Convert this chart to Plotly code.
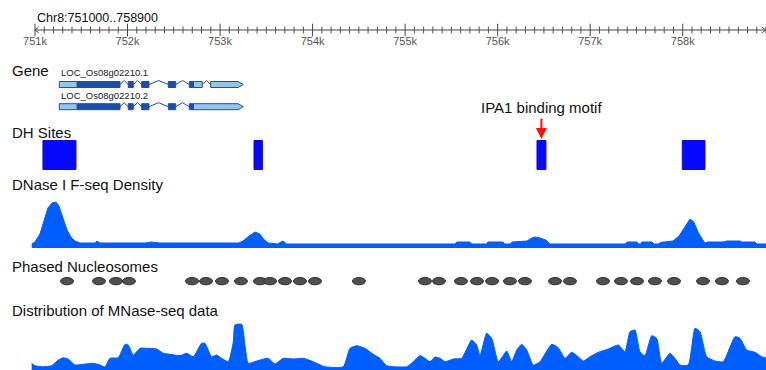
import plotly.graph_objects as go

W, H = 766, 370
X_START, X_END = 751000, 758900
VIEW_LEFT = 750622

# ---------------- data ----------------
major_ticks = list(range(751000, 759000, 1000))
major_labels = [f"{v // 1000}k" for v in major_ticks]
minor_ticks = [v for v in range(751100, 758901, 100) if v % 1000 != 0]

tx_names = ["LOC_Os08g02210.1", "LOC_Os08g02210.2"]
tx_cds = [
    [(751457, 751919), (752008, 752062), (752153, 752232), (752441, 752521), (752668, 752711)],
    [(751457, 751919), (752008, 752062), (752153, 752232), (752441, 752521), (752668, 752711)],
]
tx_utr = [
    [(751263, 751457), (752711, 752808), (752899, 753251)],
    [(751263, 751457), (752711, 753251)],
]

dh_start = [751086, 753367, 756425, 757995]
dh_end = [751443, 753458, 756522, 758241]
motif_pos = 756473
motif_label = "IPA1 binding motif"

dnase_pos = [750965, 751000, 751054, 751097, 751140, 751184, 751227, 751259, 751303, 751346,
             751389, 751432, 751486, 751650, 751670, 751700, 752200, 752250, 752350, 752700,
             753200, 753248, 753300, 753378, 753430, 753470, 753518, 753620, 753680, 753720,
             755540, 755560, 755700, 755720, 755880, 755895, 756058, 756075, 756140, 756155,
             756317, 756370, 756404, 756460, 756520, 756566, 757380, 757398, 757506, 757520,
             757545, 757560, 757668, 757690, 757740, 757755, 757841, 757895, 757960, 758030,
             758079, 758120, 758170, 758210, 758241, 758273, 758435, 758478, 758619, 758640,
             758781, 758800, 758900]
dnase_val = [4, 6, 14, 28, 40, 45, 46, 42, 30, 18,
             11, 7, 5, 5, 7, 5, 5, 6, 5, 5,
             5, 7, 11, 16, 14, 9, 5, 4, 7, 4,
             4, 6, 6, 4, 4, 6, 6, 4, 4, 6,
             7, 10, 11, 10, 8, 4, 4, 6, 6, 4,
             4, 6, 6, 4, 4, 5.5, 6, 7, 12, 22,
             29, 26, 15, 9, 5, 6, 6, 7, 7, 6,
             6, 4, 4]

nuc_centers = [751346, 751692, 751875, 752016, 752697, 752848, 753021, 753226, 753432, 753540,
               753702, 753864, 754026, 754501, 755215, 755366, 755604, 755777, 755939, 756133,
               756295, 756620, 756782, 757138, 757333, 757506, 757700, 757906, 758219, 758424,
               758651]

mnase_pos = [750964, 751000, 751090, 751180, 751252, 751306, 751360, 751432, 751522, 751630,
             751702, 751756, 751811, 751900, 751973, 752008, 752062, 752135, 752207, 752315,
             752387, 752459, 752567, 752639, 752711, 752801, 752837, 752909, 752963, 753017,
             753089, 753143, 753161, 753234, 753269, 753305, 753396, 753521, 753594, 753683,
             753791, 753900, 754008, 754134, 754332, 754404, 754477, 754566, 754656, 754728,
             754801, 755017, 755088, 755161, 755215, 755269, 755323, 755377, 755431, 755521,
             755611, 755719, 755773, 755809, 755881, 755936, 756007, 756098, 756152, 756206,
             756260, 756314, 756385, 756458, 756584, 756655, 756728, 756800, 756871, 756926,
             756998, 757088, 757196, 757304, 757376, 757430, 757484, 757538, 757592, 757665,
             757719, 757773, 757862, 757916, 757971, 758060, 758133, 758187, 758259, 758349,
             758438, 758565, 758619, 758691, 758781, 758853, 758900]
mnase_val = [6.7, 4.3, 3.3, 4.3, 10, 12.3, 11, 5, 5.7, 6.7,
             5, 3, 11.7, 12.3, 25.7, 25, 15, 21.7, 21.7, 21,
             16.7, 15.7, 14.3, 16.7, 13.3, 26.7, 26.7, 13.3, 15, 11.7,
             8.3, 28, 45, 45.7, 25, 6.7, 9, 11.7, 6, 11.7,
             11, 11.7, 8.3, 3.3, 3.3, 21.7, 24.3, 21.7, 15.7, 11.7,
             4.3, 3.3, 8.3, 14.3, 11.7, 8.3, 13, 11.7, 8.3, 11,
             11.7, 30, 25, 14.3, 36.7, 31.7, 8.3, 19, 8.3, 20,
             25.7, 20, 5, 8.3, 25.7, 22.3, 11.7, 17.7, 13.3, 9,
             13.3, 17.7, 21, 25, 18.3, 38.3, 40, 18.3, 14.3, 34.3,
             31.7, 6.7, 16.7, 11.7, 5, 5, 41.7, 38.3, 13.3, 9,
             8.3, 33.3, 31.7, 20, 17.7, 13.3, 12]

track_titles = ["Gene", "DH Sites", "DNase I F-seq Density", "Phased Nucleosomes",
                "Distribution of MNase-seq data"]
region_title = "Chr8:751000..758900"

# ---------------- style / layout constants ----------------
FONT = "Liberation Sans, Arial, sans-serif"
BLUE = "#005eff"
AXIS_Y = 30
title_y = [70, 132.5, 184, 266, 310]
tx_rows = [84.5, 106.7]
tx_label_y = [72.8, 95.2]
DH_Y0, DH_Y1 = 140.5, 169.5
NUC_Y0, NUC_Y1 = 277.5, 284.8
NUC_HALF = 70

fig = go.Figure()

fig.add_trace(go.Scatter(x=dnase_pos, y=dnase_val, mode="lines", fill="tozeroy",
                         line=dict(color=BLUE, width=1), fillcolor=BLUE,
                         xaxis="x", yaxis="y2", hoverinfo="skip", showlegend=False))
fig.add_trace(go.Scatter(x=mnase_pos, y=mnase_val, mode="lines", fill="tozeroy",
                         line=dict(color=BLUE, width=1, shape="spline", smoothing=0.5),
                         fillcolor=BLUE, xaxis="x", yaxis="y3", hoverinfo="skip",
                         showlegend=False))

# ruler: ticks and labels
fig.add_trace(go.Scatter(x=minor_ticks, y=[AXIS_Y] * len(minor_ticks), mode="markers",
                         marker=dict(symbol="line-ns", size=5, line=dict(color="#555", width=1)),
                         xaxis="x", yaxis="y", hoverinfo="skip", showlegend=False))
fig.add_trace(go.Scatter(x=major_ticks, y=[AXIS_Y] * len(major_ticks), mode="markers+text",
                         marker=dict(symbol="line-ns", size=9, line=dict(color="#444", width=1)),
                         text=major_labels, textposition="bottom center",
                         textfont=dict(size=11, color="#555", family=FONT),
                         xaxis="x", yaxis="y", hoverinfo="skip", showlegend=False, cliponaxis=False))

shapes = []
shapes.append(dict(type="line", xref="x", yref="y", x0=X_START, x1=X_END, y0=AXIS_Y, y1=AXIS_Y,
                   line=dict(color="#444", width=1)))
shapes.append(dict(type="path", xref="x", yref="y",
                   path=f"M {X_START + 40},{AXIS_Y - 3} L {X_START},{AXIS_Y} L {X_START + 40},{AXIS_Y + 3}",
                   line=dict(color="#444", width=1)))
shapes.append(dict(type="path", xref="x", yref="y",
                   path=f"M {X_END - 45},{AXIS_Y - 3} L {X_END - 5},{AXIS_Y} L {X_END - 45},{AXIS_Y + 3}",
                   line=dict(color="#444", width=1)))

# gene models
DARK = "#1b4fa3"
LIGHT = "#93c6ea"
EDGE = "#2748b8"
for i in range(2):
    yc = tx_rows[i]
    blocks = sorted(tx_cds[i] + tx_utr[i])
    for (a0, a1), (b0, b1) in zip(blocks[:-1], blocks[1:]):
        if b0 > a1:
            mid = (a1 + b0) / 2
            shapes.append(dict(type="path", xref="x", yref="y",
                               path=f"M {a1},{yc} L {mid},{yc - 4} L {b0},{yc}",
                               line=dict(color=EDGE, width=1)))
    last = max(tx_utr[i])
    for (s, e) in tx_utr[i]:
        if (s, e) == last:
            tip = 55
            shapes.append(dict(type="path", xref="x", yref="y",
                               path=f"M {s},{yc - 3} L {e - tip},{yc - 3} L {e},{yc} L {e - tip},{yc + 3} L {s},{yc + 3} Z",
                               fillcolor=LIGHT, line=dict(color=EDGE, width=1)))
        else:
            shapes.append(dict(type="rect", xref="x", yref="y", x0=s, x1=e, y0=yc - 3, y1=yc + 3,
                               fillcolor=LIGHT, line=dict(color=EDGE, width=1)))
    for (s, e) in tx_cds[i]:
        shapes.append(dict(type="rect", xref="x", yref="y", x0=s, x1=e, y0=yc - 3, y1=yc + 3,
                           fillcolor=DARK, line=dict(color=EDGE, width=1)))

for s, e in zip(dh_start, dh_end):
    shapes.append(dict(type="rect", xref="x", yref="y", x0=s, x1=e, y0=DH_Y0, y1=DH_Y1,
                       fillcolor="#0808ff", line=dict(color="#1010c8", width=1)))

for c in nuc_centers:
    shapes.append(dict(type="circle", xref="x", yref="y", x0=c - NUC_HALF, x1=c + NUC_HALF,
                       y0=NUC_Y0, y1=NUC_Y1, fillcolor="#4f4f4f",
                       line=dict(color="#2e2e2e", width=1)))

annotations = []
annotations.append(dict(x=X_START, y=18, xref="x", yref="y", text=region_title, showarrow=False,
                        xanchor="left", yanchor="middle", font=dict(size=12.5, color="#111", family=FONT)))
for t, yy in zip(track_titles, title_y):
    annotations.append(dict(x=10 / W, y=yy, xref="paper", yref="y", text=t, showarrow=False,
                            xanchor="left", yanchor="middle", font=dict(size=15, color="#111", family=FONT)))
for i, name in enumerate(tx_names):
    annotations.append(dict(x=min(tx_utr[i])[0], y=tx_label_y[i], xref="x", yref="y", text=name,
                            showarrow=False, xanchor="left", yanchor="middle",
                            font=dict(size=9.5, color="#222", family=FONT)))
annotations.append(dict(x=motif_pos, y=107, xref="x", yref="y", text=motif_label, showarrow=False,
                        xanchor="center", yanchor="middle", font=dict(size=15, color="#111", family=FONT)))
annotations.append(dict(x=motif_pos, y=139, xref="x", yref="y", text="", showarrow=True,
                        ax=0, ay=-22, arrowhead=2, arrowsize=1.1, arrowwidth=2, arrowcolor="#ff1010",
                        standoff=0, startstandoff=0))

fig.update_layout(
    width=W, height=H, margin=dict(l=0, r=0, t=0, b=0, pad=0, autoexpand=False),
    paper_bgcolor="white", plot_bgcolor="white", showlegend=False,
    font=dict(family=FONT),
    xaxis=dict(range=[VIEW_LEFT, X_END], domain=[0, 1], anchor="y", visible=False, fixedrange=True),
    yaxis=dict(range=[H, 0], domain=[0, 1], anchor="x", visible=False, fixedrange=True),
    yaxis2=dict(range=[0, 48], domain=[(H - 248) / H, (H - 200) / H], anchor="x",
                visible=False, fixedrange=True),
    yaxis3=dict(range=[0, 50], domain=[0, 50 / H], anchor="x", visible=False, fixedrange=True),
    shapes=shapes, annotations=annotations,
)

fig.write_html("out.html", config={"displayModeBar": False},
               post_script="document.body.style.margin='0';document.body.style.overflow='hidden';")
